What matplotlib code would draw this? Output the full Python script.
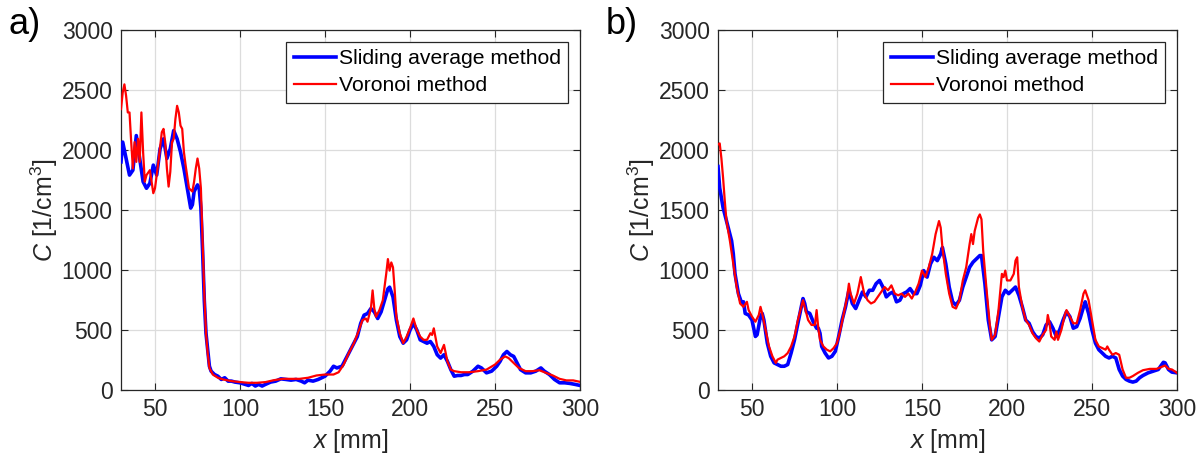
import matplotlib
matplotlib.use("Agg")
import matplotlib.pyplot as plt

plt.rcParams['font.family'] = ['Liberation Sans', 'DejaVu Sans']
plt.rcParams['mathtext.fontset'] = 'custom'
plt.rcParams['mathtext.rm'] = 'Liberation Sans'
plt.rcParams['mathtext.it'] = 'Liberation Sans:italic'

# ---------------- Panel a ----------------
a_sa_x = [30, 31, 33, 35, 37, 39, 41, 43, 45, 47, 49, 51, 53, 55, 57, 59, 61, 63, 65, 67, 69, 71, 72, 73, 75, 76, 77,
          78, 79, 80, 81, 82, 83, 85, 87, 89, 91, 93, 95, 97, 100, 103, 105, 107, 109, 111, 113, 115, 118, 121, 124,
          127, 130, 133, 136, 138, 140, 143, 146, 150, 153, 155, 157, 160, 163, 166, 169, 171, 173, 175, 177, 179,
          181, 183, 185, 187, 188, 190, 192, 194, 196, 198, 200, 202, 204, 206, 208, 210, 212, 214, 216, 218, 220,
          222, 224, 226, 228, 230, 232, 234, 237, 240, 242, 245, 248, 251, 253, 255, 257, 259, 261, 263, 265, 268,
          271, 274, 277, 279, 282, 285, 288, 291, 294, 297, 300]
a_sa_y = [1901, 2066, 1929, 1791, 1832, 2120, 1929, 1736, 1681, 1723, 1874, 1791, 2011, 2093, 1929, 2011, 2162, 2093,
          1984, 1846, 1681, 1516, 1544, 1654, 1709, 1681, 1516, 1159, 747, 473, 335, 198, 157, 129, 115, 88, 102, 74,
          74, 66, 60, 47, 38, 55, 33, 47, 33, 47, 66, 74, 93, 88, 82, 88, 74, 60, 82, 74, 88, 115, 157, 198, 184, 198,
          280, 363, 445, 555, 624, 637, 679, 651, 596, 651, 747, 843, 857, 775, 582, 445, 390, 418, 500, 555, 500,
          418, 404, 390, 404, 363, 294, 266, 294, 239, 170, 115, 121, 121, 129, 129, 157, 198, 184, 143, 157, 198,
          239, 294, 321, 294, 280, 225, 170, 143, 143, 157, 184, 157, 129, 88, 60, 60, 55, 47, 38]

a_vo_x = [30, 31, 32, 33, 34, 35, 36, 37, 38, 39, 40, 41, 42, 43, 44, 45, 47, 49, 50, 52, 54, 55, 56, 57, 58, 59, 60,
          61, 62, 63, 64, 65, 66, 67, 68, 70, 72, 73, 74, 75, 76, 77, 78, 79, 80, 81, 82, 84, 87, 90, 95, 100, 105,
          110, 115, 120, 125, 130, 135, 140, 145, 150, 155, 158, 161, 164, 167, 170, 172, 174, 175, 177, 178, 179,
          180, 182, 184, 186, 187, 188, 189, 190, 191, 192, 194, 196, 198, 200, 202, 204, 206, 208, 210, 212, 213,
          214, 216, 218, 220, 222, 224, 226, 230, 235, 240, 245, 250, 253, 256, 258, 261, 264, 268, 272, 276, 280,
          284, 288, 292, 296, 300]
a_vo_y = [2341, 2478, 2547, 2451, 2313, 2313, 2066, 1846, 2066, 1901, 2093, 1901, 2313, 1984, 1736, 1791, 1832, 1640,
          1681, 1901, 2148, 2176, 2066, 1846, 1695, 1819, 2066, 2093, 2258, 2368, 2313, 2203, 2176, 1984, 1874, 1681,
          1654, 1736, 1846, 1929, 1846, 1681, 1242, 802, 473, 308, 184, 129, 102, 88, 74, 66, 60, 60, 66, 82, 93, 93,
          93, 102, 121, 129, 129, 148, 212, 308, 390, 500, 582, 596, 569, 679, 830, 679, 610, 665, 747, 967, 1091,
          995, 1063, 1022, 830, 610, 473, 390, 445, 514, 596, 500, 445, 418, 418, 473, 459, 514, 363, 308, 376, 239,
          170, 157, 148, 148, 157, 170, 212, 253, 280, 266, 225, 184, 157, 157, 165, 143, 121, 93, 80, 80, 68]

# ---------------- Panel b ----------------
b_sa_x = [30, 31, 33, 35, 37, 38, 39, 40, 42, 44, 45, 46, 48, 50, 52, 53, 55, 56, 57, 59, 61, 63, 65, 67, 69, 71, 73,
          75, 77, 79, 80, 81, 82, 84, 86, 88, 89, 90, 91, 93, 95, 97, 99, 101, 103, 105, 107, 109, 111, 113, 115, 117,
          119, 121, 123, 125, 127, 129, 131, 133, 135, 137, 139, 141, 143, 145, 147, 149, 151, 153, 155, 157, 159,
          161, 162, 164, 166, 168, 170, 172, 174, 176, 178, 180, 182, 184, 185, 187, 189, 191, 193, 195, 197, 199,
          201, 203, 205, 207, 209, 211, 213, 215, 217, 219, 221, 223, 225, 227, 229, 231, 233, 235, 237, 239, 241,
          243, 245, 246, 248, 250, 252, 254, 256, 258, 260, 262, 264, 266, 268, 270, 272, 274, 276, 278, 280, 283,
          286, 289, 291, 292, 293, 295, 297, 300]
b_sa_y = [1862, 1684, 1519, 1408, 1299, 1243, 1134, 968, 803, 721, 735, 638, 625, 583, 446, 460, 611, 638, 583, 391,
          281, 226, 212, 198, 198, 212, 308, 418, 556, 693, 762, 721, 652, 638, 569, 515, 515, 473, 363, 308, 267, 281,
          322, 446, 583, 693, 831, 721, 679, 748, 817, 776, 831, 831, 886, 913, 858, 776, 803, 817, 735, 748, 803, 817,
          845, 803, 803, 872, 995, 941, 1051, 1106, 1078, 1134, 1188, 1051, 858, 735, 707, 748, 858, 941, 1023, 1065,
          1092, 1120, 1120, 886, 583, 418, 446, 611, 776, 831, 803, 831, 858, 789, 693, 583, 556, 487, 446, 432, 460,
          542, 569, 515, 446, 501, 583, 652, 611, 515, 528, 597, 693, 735, 638, 501, 391, 336, 308, 281, 267, 281, 267,
          171, 116, 88, 74, 66, 74, 102, 121, 143, 157, 171, 212, 231, 226, 171, 149, 143]

b_vo_x = [30, 31, 32, 33, 34, 35, 37, 39, 41, 43, 45, 47, 48, 50, 52, 54, 55, 56, 58, 60, 62, 64, 65, 67, 69, 71, 73,
          75, 77, 79, 80, 81, 83, 85, 87, 88, 89, 90, 92, 94, 96, 98, 100, 102, 104, 106, 107, 108, 110, 112, 114,
          116, 118, 120, 122, 124, 126, 128, 130, 132, 134, 136, 138, 140, 142, 144, 146, 148, 150, 152, 154, 156,
          158, 160, 161, 162, 164, 166, 168, 170, 172, 174, 176, 178, 179, 180, 181, 183, 184, 185, 186, 188, 190,
          191, 193, 195, 197, 198, 199, 200, 202, 204, 205, 206, 207, 209, 211, 213, 215, 217, 219, 221, 223, 224,
          225, 226, 228, 229, 230, 232, 234, 235, 237, 239, 241, 243, 245, 246, 248, 250, 252, 254, 256, 258, 259,
          260, 262, 264, 266, 268, 270, 272, 274, 277, 280, 284, 288, 291, 293, 295, 297, 300]
b_vo_y = [2047, 2055, 1931, 1766, 1574, 1408, 1243, 1051, 858, 721, 693, 735, 666, 611, 569, 625, 693, 638, 501, 363,
          281, 226, 253, 267, 281, 308, 363, 446, 583, 693, 748, 693, 583, 542, 542, 666, 515, 418, 363, 336, 322, 349,
          391, 501, 638, 776, 886, 803, 721, 803, 941, 803, 748, 721, 735, 776, 817, 858, 831, 872, 803, 789, 803, 776,
          803, 762, 817, 886, 995, 941, 1023, 1134, 1299, 1408, 1353, 1188, 968, 803, 693, 679, 748, 913, 1023, 1216,
          1299, 1216, 1326, 1436, 1463, 1422, 1161, 831, 528, 418, 460, 666, 968, 941, 995, 913, 913, 968, 1078, 1106,
          858, 693, 583, 542, 473, 432, 404, 460, 501, 625, 556, 446, 418, 487, 418, 501, 625, 666, 611, 556, 556, 666,
          803, 831, 748, 583, 418, 363, 349, 336, 363, 336, 294, 308, 294, 171, 102, 102, 116, 143, 165, 176, 176, 193,
          204, 176, 171, 143]

panels = [
    ("a)", a_sa_x, a_sa_y, a_vo_x, a_vo_y),
    ("b)", b_sa_x, b_sa_y, b_vo_x, b_vo_y),
]

xticks = [50, 100, 150, 200, 250, 300]
yticks = [0, 500, 1000, 1500, 2000, 2500, 3000]
axcol = '#262626'

fig = plt.figure(figsize=(12.03, 4.59), dpi=100)
lefts = [121 / 1203, 718 / 1203]
for i, (lab, sx, sy, vx, vy) in enumerate(panels):
    ax = fig.add_axes([lefts[i], 69 / 459, 459 / 1203, 360 / 459])
    ax.plot(sx, sy, color='#0000ff', lw=2.6, label='Sliding average method', zorder=3)
    ax.plot(vx, vy, color='#ff0000', lw=1.6, label='Voronoi method', zorder=4)
    ax.set_xlim(30, 300)
    ax.set_ylim(0, 3000)
    ax.set_xticks(xticks)
    ax.set_yticks(yticks)
    ax.grid(True, color='#dcdcdc', lw=0.9)
    ax.set_axisbelow(True)
    ax.tick_params(direction='in', length=5, width=0.8, colors=axcol, labelsize=16.5,
                   top=True, right=True, pad=6)
    for s in ax.spines.values():
        s.set_color(axcol)
        s.set_linewidth(0.9)
    ax.set_xlabel(r'$\it{x}$ [mm]', fontsize=18, color=axcol, labelpad=4)
    ax.set_ylabel(r'$\it{C}$ [1/cm$^{3}$]', fontsize=18, color=axcol, labelpad=1)
    leg = ax.legend(loc='upper right', fontsize=15.2, frameon=True, fancybox=False,
                    edgecolor=axcol, framealpha=1, handlelength=2.0, handletextpad=0.15,
                    borderpad=0.35, labelspacing=0.4, borderaxespad=0.55)
    leg.get_frame().set_linewidth(0.9)
    fig.text(lefts[i] - 112 / 1203, 1 - 24 / 459, lab, fontsize=26, va='center', ha='left', color='black')

fig.savefig('out.png', dpi=100)
